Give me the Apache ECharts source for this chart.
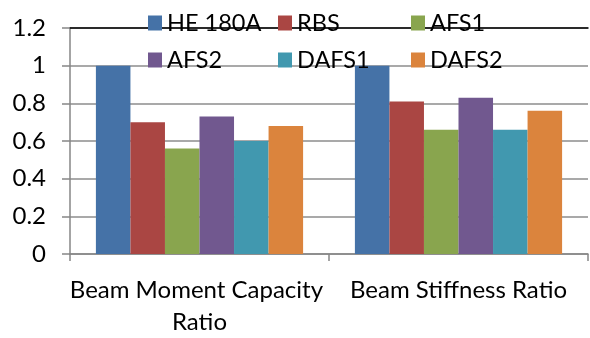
<!DOCTYPE html>
<html>
<head>
<meta charset="utf-8">
<script src="https://cdn.jsdelivr.net/npm/echarts@6/dist/echarts.min.js"></script>
<style>html,body{margin:0;padding:0;background:#fff;}#c{width:590px;height:338px;}</style>
</head>
<body>
<div id="c"></div>
<script>
var categories = ['Beam Moment Capacity Ratio', 'Beam Stiffness Ratio'];
var seriesNames = ['HE 180A', 'RBS', 'AFS1', 'AFS2', 'DAFS1', 'DAFS2'];
var he180a = [1.00, 1.00];
var rbs = [0.70, 0.81];
var afs1 = [0.56, 0.66];
var afs2 = [0.73, 0.83];
var dafs1 = [0.60, 0.66];
var dafs2 = [0.68, 0.76];
var yTicks = [0, 0.2, 0.4, 0.6, 0.8, 1, 1.2];

var values = [he180a, rbs, afs1, afs2, dafs1, dafs2];
var colors = ['#4572A7', '#AA4643', '#89A54E', '#71588F', '#4198AF', '#DB843D'];
var FONT = 'Lato';
var FS = 24;

var chart = echarts.init(document.getElementById('c'), null, {renderer: 'canvas'});
var legendBase = {
  orient: 'vertical', top: 10, itemWidth: 14, itemHeight: 15, itemGap: 11,
  icon: 'rect', padding: 0,
  textStyle: {fontFamily: FONT, fontSize: 23.5, color: '#000', lineHeight: 26}
};
chart.setOption({
  animation: false,
  color: colors,
  textStyle: {fontFamily: FONT},
  legend: [
    Object.assign({}, legendBase, {left: 148, data: [seriesNames[0], seriesNames[3]]}),
    Object.assign({}, legendBase, {left: 278, data: [seriesNames[1], seriesNames[4]]}),
    Object.assign({}, legendBase, {left: 411, data: [seriesNames[2], seriesNames[5]]})
  ],
  grid: {left: 70, right: -8, top: 28, bottom: 80, containLabel: false},
  xAxis: [{
    type: 'category', data: categories,
    axisLine: {lineStyle: {color: '#868686', width: 1.5}},
    axisTick: {show: true, length: 7, lineStyle: {color: '#868686', width: 1.5}},
    axisLabel: {interval: 0, margin: 20, fontFamily: FONT, fontSize: FS, color: '#000',
      lineHeight: 32, width: 262, overflow: 'break', align: 'center'}
  }, {
    type: 'category', data: categories, position: 'top',
    axisLine: {show: true, lineStyle: {color: '#000', width: 1.5}},
    axisTick: {show: false}, axisLabel: {show: false}
  }],
  yAxis: {
    type: 'value', min: 0, max: 1.2, interval: 0.2,
    axisLine: {show: true, lineStyle: {color: '#868686', width: 1.5}},
    axisTick: {show: true, length: 8, lineStyle: {color: '#868686', width: 1.5}},
    splitLine: {show: true, lineStyle: {color: '#8c8c8c', width: 1.5}},
    axisLabel: {margin: 24, fontFamily: FONT, fontSize: FS, color: '#000',
      formatter: function (v) { return String(Math.round(v * 10) / 10); }}
  },
  series: seriesNames.map(function (n, i) {
    return {
      name: n, type: 'bar', data: values[i],
      barGap: '0%', barCategoryGap: '20%',
      itemStyle: {color: colors[i]}
    };
  })
});
</script>
</body>
</html>
